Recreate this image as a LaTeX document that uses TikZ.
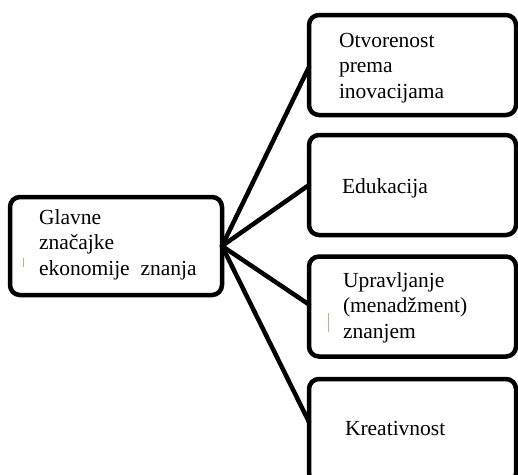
\documentclass[tikz,border=0pt]{standalone}
\usepackage{fontspec}
\setmainfont{Liberation Serif}
\usetikzlibrary{calc}
\begin{document}
\begin{tikzpicture}[x=1pt,y=-1pt,
  box/.style={draw=black, line width=4.5pt, rounded corners=10pt, fill=white,
    rectangle, inner sep=0pt, outer sep=0pt},
  rbox/.style={box, minimum width=207pt, minimum height=100pt},
  btext/.style={anchor=base west, inner sep=0pt, outer sep=0pt, align=left,
    font=\fontsize{21.5}{25.5}\selectfont},
  link/.style={draw=black, line width=4.5pt, line cap=round},
  cursormark/.style={draw={rgb,255:red,205;green,170;blue,130}, line width=1pt}]
\useasboundingbox (0,0) rectangle (518,474);
\clip (0,0) rectangle (518,474);

% central box
\node[box, minimum width=212pt, minimum height=98pt] (main) at (116,246) {};
% the four feature boxes
\node[rbox] (b1) at (412.5,65) {};
\node[rbox] (b2) at (412.5,185) {};
\node[rbox] (b3) at (412.5,306.5) {};
\node[rbox, minimum height=104pt] (b4) at (412.5,431) {};

% connectors from the central box to each feature
\coordinate (hub) at (main.east);
\coordinate (e1) at ($(b1.north west)+(0,52)$);
\coordinate (e2) at ($(b2.north west)+(0,50)$);
\coordinate (e3) at ($(b3.north west)+(0,48)$);
\coordinate (e4) at ($(b4.north west)+(0,43)$);
\foreach \e in {e1,e2,e3,e4} \draw[link] (hub) -- (\e);

% texts (anchored at the baseline of the last line)
\node[btext] (t0) at (39,275) {Glavne\\značajke\\ekonomije\ \ znanja};
\node[btext] (t1) at (339,98) {Otvorenost\\prema\\inovacijama};
\node[btext] (t2) at (342,193) {Edukacija};
\node[btext] (t3) at (343,338) {Upravljanje\\(menadžment)\\znanjem};
\node[btext] (t4) at (345,435) {Kreativnost};

% small cursor marks
\draw[cursormark] (23,258) -- (23,267);
\draw[cursormark] (328,313) -- (328,332);
\end{tikzpicture}
\end{document}
